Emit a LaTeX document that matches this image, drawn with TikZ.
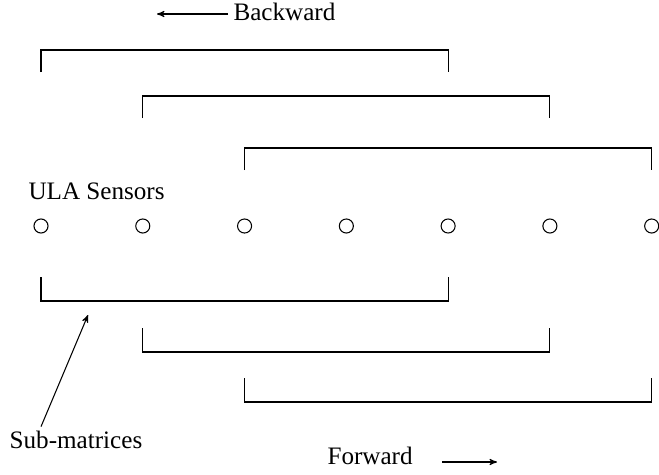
\documentclass[tikz,border=0pt]{standalone}
\usepackage{fontspec}
\setmainfont{Liberation Serif}
\usetikzlibrary{arrows}

\begin{document}
\begin{tikzpicture}[x=0.02cm,y=-0.02cm,node distance=2.036cm,line width=0.6pt,
		sensor/.style={circle,draw,inner sep=0pt,minimum size=8pt},
		label text/.style={font=\fontsize{14.3}{16}\selectfont,inner sep=0pt},
		every edge/.style={draw,-stealth'}]
		\useasboundingbox (0,0) rectangle (659,474);
		\clip (0,0) rectangle (659,474);
		% sensors of the array
		\node[sensor] (1) at (41,226) {};
		\node[sensor] (2) [right of=1] {};
		\node[sensor] (3) [right of=2] {};
		\node[sensor] (4) [right of=3] {};
		\node[sensor] (5) [right of=4] {};
		\node[sensor] (6) [right of=5] {};
		\node[sensor] (7) [right of=6] {};
		\node[label text,anchor=base west] (ula) at (28,199) {ULA Sensors};
		% backward sub-arrays
		\draw (1 |- 0,72) -- (1 |- 0,50) -- (5 |- 0,50) -- (5 |- 0,72);
		\draw (2 |- 0,118) -- (2 |- 0,96) -- (6 |- 0,96) -- (6 |- 0,118);
		\draw (3 |- 0,170) -- (3 |- 0,148) -- (7 |- 0,148) -- (7 |- 0,170);
		% forward sub-arrays
		\draw (1 |- 0,277) -- (1 |- 0,301) -- (5 |- 0,301) -- (5 |- 0,277);
		\draw (2 |- 0,328) -- (2 |- 0,352) -- (6 |- 0,352) -- (6 |- 0,328);
		\draw (3 |- 0,378) -- (3 |- 0,402) -- (7 |- 0,402) -- (7 |- 0,378);
		% labels and arrows
		\node[label text,anchor=west] (bw) at (233,12) {Backward};
		\node[label text,anchor=west] (fw) at (327,456) {Forward};
		\node[label text] (sub) at (76,440) {Sub-matrices};
		\coordinate (bwtip) at (157,14);
		\coordinate (fwtail) at (442,462);
		\coordinate (fwtip) at (497,462);
		\coordinate (subtip) at (88,315);
		\path ([xshift=-0.1cm]bw.west |- bwtip) edge (bwtip)
		(fwtail) edge (fwtip)
		([xshift=-0.7cm,yshift=0.08cm]sub.north) edge (subtip);
\end{tikzpicture}
\end{document}
